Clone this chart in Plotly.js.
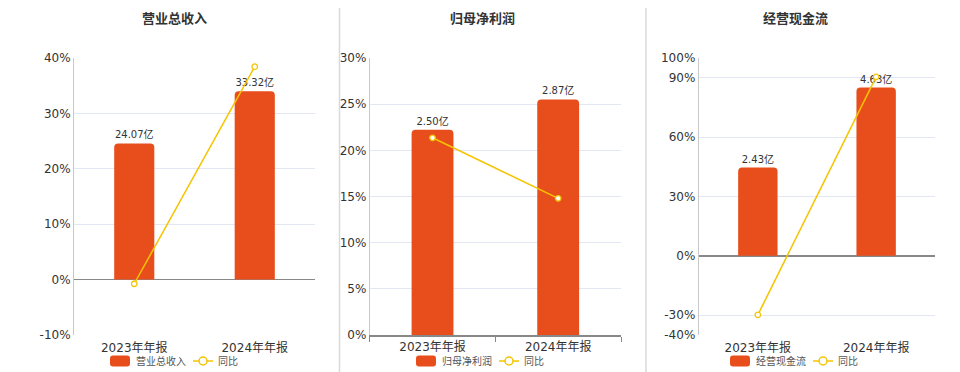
<!DOCTYPE html>
<html><head><meta charset="utf-8">
<script src="https://cdn.plot.ly/plotly-3.0.1.min.js"></script>
<style>html,body{margin:0;padding:0;background:#fff}#chart{width:960px;height:372px}</style>
</head><body><div id="chart"></div>
<script>
// ---- data ----
const categories = ['2023年年报', '2024年年报'];
const titles = ['营业总收入', '归母净利润', '经营现金流'];
const revenue = [24.07, 33.32];
const revenueYoY = [-0.75, 38.43];
const netProfit = [2.50, 2.87];
const netProfitYoY = [21.36, 14.80];
const cashFlow = [2.43, 4.63];
const cashFlowYoY = [-29.8, 90.5];
const pctTicks1 = [-10, 0, 10, 20, 30, 40];
const pctTicks2 = [0, 5, 10, 15, 20, 25, 30];
const pctTicks3 = [-40, -30, 0, 30, 60, 90, 100];
const yoyName = '同比';

// ---- layout constants ----
const W = 960, H = 372;
const BAR = '#E84E1C', LINE = '#F5C400', TXT = '#333333', LEGTXT = '#555555';
const FONT = 'DejaVu Sans, Noto Sans CJK SC, sans-serif';
const plotTop = 58, plotBottom = 335, legendY = 361;
const panels = [
  {vals: revenue,   yoy: revenueYoY,   ticks: pctTicks1, x0: 74,    x1: 315,   title: titles[0], titleX: 174, legX: 110},
  {vals: netProfit, yoy: netProfitYoY, ticks: pctTicks2, x0: 369.7, x1: 621,   title: titles[1], titleX: 482, legX: 416},
  {vals: cashFlow,  yoy: cashFlowYoY,  ticks: pctTicks3, x0: 698.7, x1: 935.3, title: titles[2], titleX: 795, legX: 730}
];

const data = [];
const layout = {
  width: W, height: H, autosize: false,
  margin: {l: 0, r: 0, t: 0, b: 0},
  paper_bgcolor: '#fff', plot_bgcolor: 'rgba(0,0,0,0)',
  font: {family: FONT, color: TXT, size: 12},
  showlegend: false,
  hovermode: false,
  annotations: [],
  shapes: []
};

const yDom = [1 - plotBottom / H, 1 - plotTop / H];
const px2x = v => v / W;
const px2y = v => 1 - v / H;

panels.forEach((p, i) => {
  const n = i + 1;
  const xId = n === 1 ? 'x' : 'x' + n;
  const xKey = n === 1 ? 'xaxis' : 'xaxis' + n;
  const barY = 2 * n - 1, pctY = 2 * n;
  const barYId = barY === 1 ? 'y' : 'y' + barY;
  const barYKey = barY === 1 ? 'yaxis' : 'yaxis' + barY;
  const pctYId = 'y' + pctY, pctYKey = 'yaxis' + pctY;
  const pMin = Math.min(...p.ticks), pMax = Math.max(...p.ticks);
  const barMax = Math.max(...p.vals) * 1.176;
  const barMin = barMax * pMin / pMax;
  const xDom = [px2x(p.x0), px2x(p.x1)];

  layout[xKey] = {
    domain: xDom, anchor: barYId, type: 'category',
    range: [-0.5, 1.5], showgrid: false, zeroline: false,
    showline: pMin === 0, linecolor: '#888', linewidth: 1.5,
    ticks: pMin === 0 ? 'outside' : '', tickson: 'boundaries', ticklen: 5, tickcolor: '#888',
    ticklabelstandoff: pMin === 0 ? 0 : 4,
    tickfont: {size: 12, color: TXT}, fixedrange: true
  };
  layout[barYKey] = {
    domain: yDom, anchor: xId, range: [barMin, barMax],
    visible: false, showgrid: false, zeroline: false, fixedrange: true
  };
  layout[pctYKey] = {
    overlaying: barYId, anchor: xId, side: 'left',
    range: [pMin, pMax], tickmode: 'array', tickvals: p.ticks,
    ticktext: p.ticks.map(v => v + '%'),
    showgrid: true, gridcolor: '#E3E7F3', gridwidth: 1,
    zeroline: pMin < 0, zerolinecolor: '#888', zerolinewidth: 1.5,
    showline: true, linecolor: '#C8C8C8', linewidth: 1,
    ticks: '', tickfont: {size: 12, color: TXT}, fixedrange: true
  };

  // tick marks on the zero line for panels whose zero is inside the range
  if (pMin < 0) {
    const axN = 3 + (n === 1 ? 1 : 2);
    const zeroFrac = yDom[0] + (0 - pMin) / (pMax - pMin) * (yDom[1] - yDom[0]);
    layout['xaxis' + axN] = {
      overlaying: xId, anchor: 'free', position: zeroFrac,
      type: 'linear', range: [-0.5, 1.5], tickmode: 'array', tickvals: [-0.5, 0.5, 1.5],
      showticklabels: false, ticks: 'outside', ticklen: 5, tickcolor: '#888', tickwidth: 1,
      showgrid: false, zeroline: false, showline: false, fixedrange: true
    };
  }

  data.push({
    type: 'bar', x: categories, y: p.vals, name: p.title,
    xaxis: xId, yaxis: barYId,
    width: 0.333,
    marker: {color: BAR, cornerradius: 4, line: {width: 0}},
    texttemplate: '%{y:.2f}亿', textposition: 'outside',
    textfont: {size: 10, color: TXT}, cliponaxis: false,
    constraintext: 'none'
  });
  data.push({
    type: 'scatter', mode: 'lines+markers', x: categories, y: p.yoy, name: yoyName,
    xaxis: xId, yaxis: pctYId,
    line: {color: LINE, width: 1.5},
    marker: {symbol: 'circle', size: 5.5, color: '#fff', line: {color: LINE, width: 1.3}},
    cliponaxis: false
  });

  // ---- legend (drawn as decoration) ----
  const L = p.legX;
  layout.shapes.push({
    type: 'path', xref: 'paper', yref: 'paper',
    xsizemode: 'pixel', ysizemode: 'pixel', xanchor: px2x(L), yanchor: px2y(legendY),
    path: 'M3,-5.5 H17 Q20,-5.5 20,-2.5 V2.5 Q20,5.5 17,5.5 H3 Q0,5.5 0,2.5 V-2.5 Q0,-5.5 3,-5.5 Z',
    fillcolor: BAR, line: {width: 0}
  });
  layout.shapes.push({
    type: 'line', xref: 'paper', yref: 'paper',
    x0: px2x(L + 83), x1: px2x(L + 103), y0: px2y(legendY), y1: px2y(legendY),
    line: {color: LINE, width: 1.5}
  });
  layout.shapes.push({
    type: 'circle', xref: 'paper', yref: 'paper',
    xsizemode: 'pixel', ysizemode: 'pixel', xanchor: px2x(L + 93), yanchor: px2y(legendY),
    x0: -4, x1: 4, y0: -4, y1: 4,
    fillcolor: '#fff', line: {color: LINE, width: 1.5}
  });
  [[p.title, L + 24], [yoyName, L + 106]].forEach(([t, x]) => {
    layout.annotations.push({
      text: t, xref: 'paper', yref: 'paper', x: px2x(x), y: px2y(legendY),
      xanchor: 'left', yanchor: 'middle', showarrow: false,
      font: {size: 10, color: LEGTXT}
    });
  });

  layout.annotations.push({
    text: '<b>' + p.title + '</b>', xref: 'paper', yref: 'paper',
    x: px2x(p.titleX), y: px2y(19), xanchor: 'center', yanchor: 'middle',
    showarrow: false, font: {size: 13, color: TXT}
  });
});

// panel dividers
[339.5, 646].forEach(px => {
  layout.shapes.push({
    type: 'line', xref: 'paper', yref: 'paper',
    x0: px2x(px), x1: px2x(px), y0: 0, y1: px2y(8),
    line: {color: '#D9D9D9', width: 1.5}
  });
});

Plotly.newPlot('chart', data, layout, {displayModeBar: false, staticPlot: true});
</script>
</body></html>
